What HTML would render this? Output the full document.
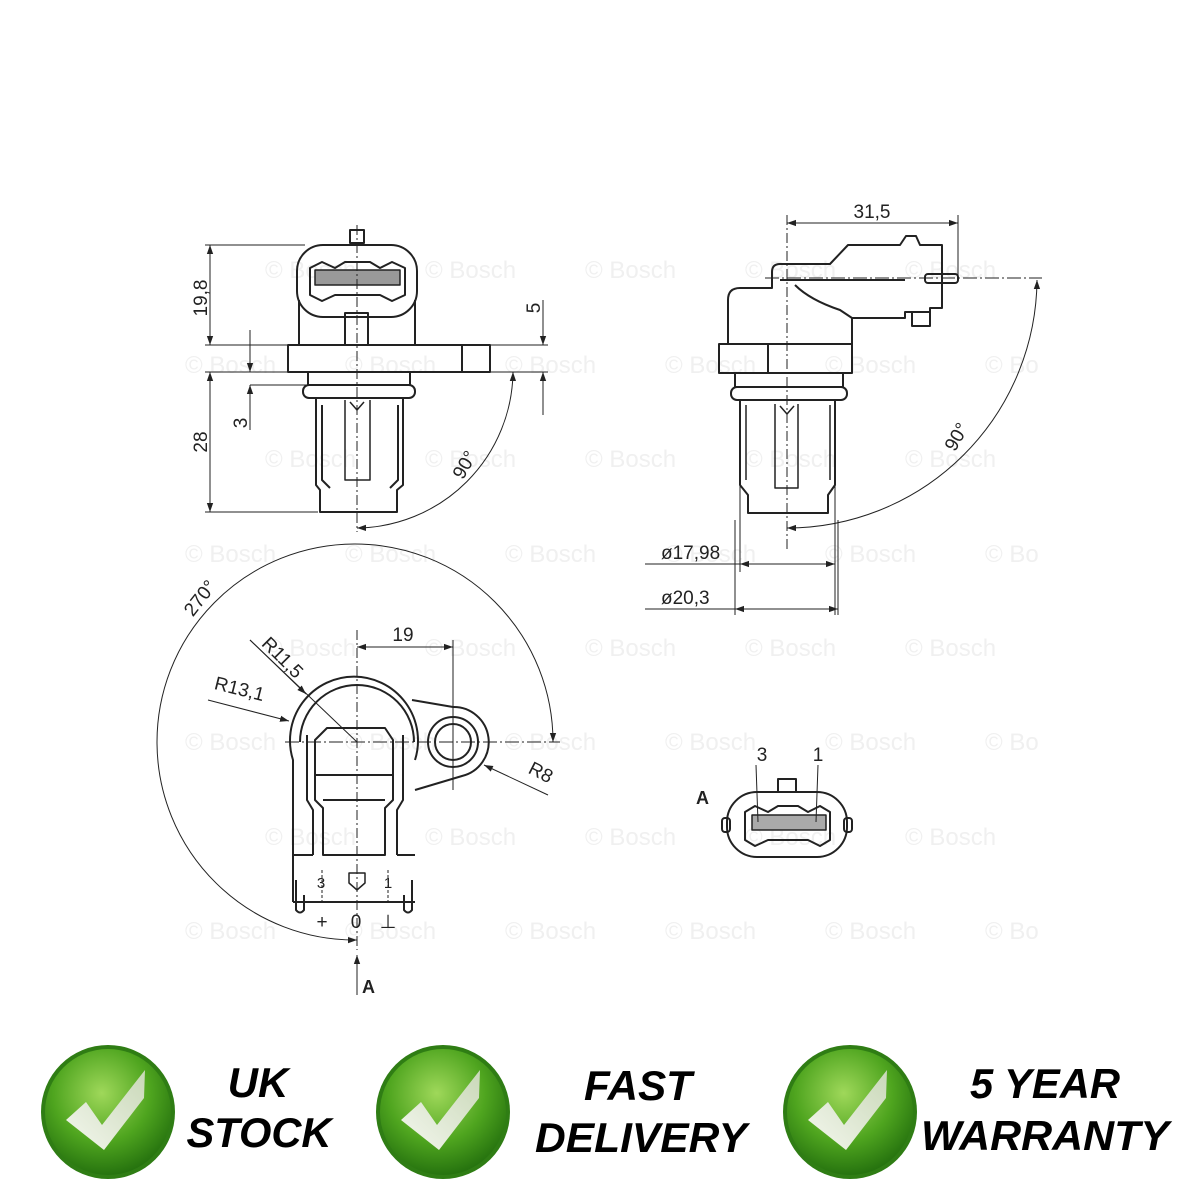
<!DOCTYPE html>
<html><head><meta charset="utf-8"><style>
html,body{margin:0;padding:0;background:#fff;}
svg{display:block;}
</style></head><body>
<svg width="1200" height="1200" viewBox="0 0 1200 1200" xmlns="http://www.w3.org/2000/svg">
<defs>
<marker id="ar" viewBox="0 0 10 10" refX="10" refY="5" markerWidth="9" markerHeight="9" orient="auto-start-reverse" markerUnits="userSpaceOnUse"><path d="M0,1.5 L10,5 L0,8.5 Z" fill="#222"/></marker>
<radialGradient id="gg" cx="45%" cy="35%" r="70%">
<stop offset="0" stop-color="#9fd85a"/><stop offset="0.55" stop-color="#4fa51f"/><stop offset="1" stop-color="#1f6a0c"/></radialGradient>
<linearGradient id="ck" x1="0" y1="1" x2="1" y2="0"><stop offset="0" stop-color="#f4f7ee"/><stop offset="1" stop-color="#c9d8b8"/></linearGradient>
</defs>

<g font-family="Liberation Sans, sans-serif" font-size="24" fill="#f0f0f0">
<text x="265" y="278">© Bosch</text><text x="425" y="278">© Bosch</text><text x="585" y="278">© Bosch</text><text x="745" y="278">© Bosch</text><text x="905" y="278">© Bosch</text>
<text x="185" y="373">© Bosch</text><text x="345" y="373">© Bosch</text><text x="505" y="373">© Bosch</text><text x="665" y="373">© Bosch</text><text x="825" y="373">© Bosch</text><text x="985" y="373">© Bo</text>
<text x="265" y="467">© Bosch</text><text x="425" y="467">© Bosch</text><text x="585" y="467">© Bosch</text><text x="745" y="467">© Bosch</text><text x="905" y="467">© Bosch</text>
<text x="185" y="562">© Bosch</text><text x="345" y="562">© Bosch</text><text x="505" y="562">© Bosch</text><text x="665" y="562">© Bosch</text><text x="825" y="562">© Bosch</text><text x="985" y="562">© Bo</text>
<text x="265" y="656">© Bosch</text><text x="425" y="656">© Bosch</text><text x="585" y="656">© Bosch</text><text x="745" y="656">© Bosch</text><text x="905" y="656">© Bosch</text>
<text x="185" y="750">© Bosch</text><text x="345" y="750">© Bosch</text><text x="505" y="750">© Bosch</text><text x="665" y="750">© Bosch</text><text x="825" y="750">© Bosch</text><text x="985" y="750">© Bo</text>
<text x="265" y="845">© Bosch</text><text x="425" y="845">© Bosch</text><text x="585" y="845">© Bosch</text><text x="745" y="845">© Bosch</text><text x="905" y="845">© Bosch</text>
<text x="185" y="939">© Bosch</text><text x="345" y="939">© Bosch</text><text x="505" y="939">© Bosch</text><text x="665" y="939">© Bosch</text><text x="825" y="939">© Bosch</text><text x="985" y="939">© Bo</text>
</g>

<g fill="none" stroke="#222" stroke-width="2" stroke-linejoin="round">
<rect x="350" y="230" width="14" height="13"/>
<rect x="297" y="245" width="120" height="72" rx="26"/>
<path d="M310,268 L322,262 L335,268 L345,262 L370,262 L380,268 L392,262 L405,268 L405,295 L392,301 L380,295 L335,295 L322,301 L310,295 Z"/>
<rect x="315" y="270" width="85" height="15" fill="#999" stroke-width="1.5"/>
<path d="M299,300 L299,345 M415,300 L415,345"/>
<rect x="345" y="313" width="23" height="32"/>
<rect x="288" y="345" width="202" height="27"/>
<line x1="462" y1="345" x2="462" y2="372"/>
<rect x="308" y="372" width="102" height="13"/>
<rect x="303" y="385" width="112" height="13" rx="6"/>
<path d="M316,398 L316,485 L320,490 L320,512 L397,512 L397,490 L403,485 L403,398"/>
<path d="M322,405 L322,480 L330,488 M398,405 L398,480 L390,488"/>
<path d="M345,400 L345,480 L370,480 L370,400 M350,402 L357,410 L364,402" stroke-width="1.5"/>
<g stroke-width="1">
<line x1="205" y1="245" x2="305" y2="245"/>
<line x1="205" y1="345" x2="288" y2="345"/>
<line x1="205" y1="372" x2="308" y2="372"/>
<line x1="205" y1="512" x2="318" y2="512"/>
<line x1="250" y1="385" x2="308" y2="385"/>
<line x1="210" y1="245" x2="210" y2="345" marker-start="url(#ar)" marker-end="url(#ar)"/>
<line x1="210" y1="372" x2="210" y2="512" marker-start="url(#ar)" marker-end="url(#ar)"/>
<line x1="250" y1="330" x2="250" y2="372" marker-end="url(#ar)"/>
<line x1="250" y1="430" x2="250" y2="385" marker-end="url(#ar)"/>
<line x1="490" y1="345" x2="548" y2="345"/>
<line x1="490" y1="372" x2="548" y2="372"/>
<line x1="543" y1="300" x2="543" y2="345" marker-end="url(#ar)"/>
<line x1="543" y1="415" x2="543" y2="372" marker-end="url(#ar)"/>
<line x1="357" y1="225" x2="357" y2="532" stroke-dasharray="10,3,2,3"/>
<path d="M513,372 A158,158 0 0 1 357,528" marker-start="url(#ar)" marker-end="url(#ar)"/>
</g>

<path d="M728,345 L728,300 Q728,288 740,288 L772,288 L772,272 Q772,264 780,264 L830,264 L848,245 L900,245 L906,236 L916,236 L920,245 L942,245 L942,308 L930,308 L930,312 L905,312 L905,318 L852,318 L852,345"/>
<path d="M780,280 L905,280 M795,285 Q810,300 840,310 L852,318"/>
<rect x="925" y="274" width="33" height="9" rx="3"/>
<rect x="912" y="312" width="18" height="14"/>
<rect x="719" y="344" width="133" height="29"/>
<line x1="768" y1="344" x2="768" y2="373"/>
<rect x="735" y="373" width="108" height="14"/>
<rect x="731" y="387" width="116" height="13" rx="6"/>
<path d="M740,400 L740,485 L748,495 L748,513 L828,513 L828,495 L835,485 L835,400"/>
<path d="M746,405 L746,480 M830,405 L830,480 M775,404 L775,488 L798,488 L798,404 M780,406 L787,414 L794,406" stroke-width="1.5"/>
<g stroke-width="1">
<line x1="787" y1="215" x2="787" y2="552" stroke-dasharray="10,3,2,3"/>
<line x1="958" y1="215" x2="958" y2="280"/>
<line x1="787" y1="223" x2="958" y2="223" marker-start="url(#ar)" marker-end="url(#ar)"/>
<line x1="765" y1="278" x2="1042" y2="278" stroke-dasharray="14,3,2,3"/>
<path d="M1037,280 A250,250 0 0 1 787,528" marker-start="url(#ar)" marker-end="url(#ar)"/>
<line x1="740" y1="400" x2="740" y2="572"/>
<line x1="835" y1="400" x2="835" y2="615"/>
<line x1="735" y1="520" x2="735" y2="615"/>
<line x1="838" y1="520" x2="838" y2="615"/>
<line x1="645" y1="564" x2="740" y2="564"/>
<line x1="740" y1="564" x2="835" y2="564" marker-start="url(#ar)" marker-end="url(#ar)"/>
<line x1="645" y1="609" x2="735" y2="609"/>
<line x1="735" y1="609" x2="838" y2="609" marker-start="url(#ar)" marker-end="url(#ar)"/>
</g>

<path d="M293,902 L293,760 A64,64 0 1 1 415,760"/>
<path d="M300,742 A57,57 0 1 1 414,742"/>
<path d="M412,700 L453,707 A35,35 0 0 1 462,776 L415,790"/>
<circle cx="453" cy="742" r="25"/>
<circle cx="453" cy="742" r="18"/>
<path d="M315,740 L315,800 L323,808 L323,855 L385,855 L385,808 L393,800 L393,740 L385,728 L327,728 Z"/>
<path d="M307,735 L307,800 L313,810 L313,855 M403,735 L403,800 L397,810 L397,855"/>
<line x1="315" y1="775" x2="393" y2="775"/>
<line x1="323" y1="800" x2="385" y2="800"/>
<path d="M293,855 L313,855 M397,855 L415,855"/>
<path d="M293,902 L415,902"/>
<path d="M296,880 L296,910 Q300,915 304,910 L304,895 M412,880 L412,910 Q408,915 404,910 L404,895"/>
<path d="M349,873 L349,883 L357,890 L365,883 L365,873 Z" stroke-width="1.5"/>
<g stroke-width="1">
<line x1="357" y1="630" x2="357" y2="950" stroke-dasharray="10,3,2,3"/>
<line x1="285" y1="742" x2="560" y2="742" stroke-dasharray="14,3,2,3"/>
<line x1="453" y1="640" x2="453" y2="790"/>
<line x1="357" y1="647" x2="453" y2="647" marker-start="url(#ar)" marker-end="url(#ar)"/>
<path d="M553,742 A198,198 0 1 0 357,940" marker-start="url(#ar)" marker-end="url(#ar)"/>
<line x1="250" y1="640" x2="357" y2="742"/>
<line x1="250" y1="640" x2="306" y2="694" marker-end="url(#ar)"/>
<line x1="208" y1="700" x2="289" y2="721" marker-end="url(#ar)"/>
<line x1="548" y1="795" x2="484" y2="765" marker-end="url(#ar)"/>
<line x1="357" y1="995" x2="357" y2="955" marker-end="url(#ar)"/>
<line x1="322" y1="870" x2="322" y2="902" stroke-dasharray="3,2"/>
<line x1="388" y1="870" x2="388" y2="902" stroke-dasharray="3,2"/>
</g>

<rect x="778" y="779" width="18" height="13"/>
<rect x="727" y="792" width="120" height="65" rx="30"/>
<rect x="722" y="818" width="8" height="14" rx="3"/>
<rect x="844" y="818" width="8" height="14" rx="3"/>
<path d="M745,812 L755,806 L768,812 L778,806 L798,806 L808,812 L820,806 L830,812 L830,840 L820,846 L808,840 L768,840 L755,846 L745,840 Z"/>
<rect x="752" y="815" width="74" height="15" fill="#aaa" stroke-width="1.5"/>
<line x1="756" y1="765" x2="758" y2="822" stroke-width="1"/>
<line x1="818" y1="765" x2="816" y2="822" stroke-width="1"/>
</g>

<g font-family="Liberation Sans, sans-serif" font-size="19" fill="#222">
<text transform="translate(207,298) rotate(-90)" text-anchor="middle">19,8</text>
<text transform="translate(207,442) rotate(-90)" text-anchor="middle">28</text>
<text transform="translate(247,423) rotate(-90)" text-anchor="middle">3</text>
<text transform="translate(540,308) rotate(-90)" text-anchor="middle">5</text>
<text transform="translate(470,468) rotate(-60)" text-anchor="middle">90°</text>
<text x="872" y="218" text-anchor="middle">31,5</text>
<text transform="translate(962,440) rotate(-60)" text-anchor="middle">90°</text>
<text x="661" y="559">ø17,98</text>
<text x="661" y="604">ø20,3</text>
<text transform="translate(205,602) rotate(-52)" text-anchor="middle">270°</text>
<text x="403" y="641" text-anchor="middle">19</text>
<text transform="translate(278,662) rotate(45)" text-anchor="middle">R11,5</text>
<text transform="translate(238,695) rotate(14)" text-anchor="middle">R13,1</text>
<text transform="translate(538,778) rotate(27)" text-anchor="middle">R8</text>
<text x="321" y="888" font-size="15" text-anchor="middle">3</text>
<text x="388" y="888" font-size="15" text-anchor="middle">1</text>
<text x="322" y="928" text-anchor="middle">+</text>
<text x="356" y="928" text-anchor="middle">0</text>
<text x="388" y="928" text-anchor="middle">⊥</text>
<text x="762" y="761" text-anchor="middle">3</text>
<text x="818" y="761" text-anchor="middle">1</text>
</g>
<g font-family="Liberation Sans, sans-serif" font-weight="bold" font-size="18" fill="#222">
<text x="362" y="993">A</text>
<text x="696" y="804">A</text>
</g>

<g>
<circle cx="108" cy="1112" r="67" fill="#2f7d14"/>
<circle cx="108" cy="1112" r="63" fill="url(#gg)"/>
<path d="M66,1120 L86,1102 L102,1125 L145,1070 L144,1098 L104,1150 Z" fill="url(#ck)"/>
<circle cx="443" cy="1112" r="67" fill="#2f7d14"/>
<circle cx="443" cy="1112" r="63" fill="url(#gg)"/>
<path d="M401,1120 L421,1102 L437,1125 L480,1070 L479,1098 L439,1150 Z" fill="url(#ck)"/>
<circle cx="850" cy="1112" r="67" fill="#2f7d14"/>
<circle cx="850" cy="1112" r="63" fill="url(#gg)"/>
<path d="M808,1120 L828,1102 L844,1125 L887,1070 L886,1098 L846,1150 Z" fill="url(#ck)"/>
</g>
<g font-family="Liberation Sans, sans-serif" font-weight="bold" font-style="italic" font-size="42" fill="#000">
<text x="258" y="1097" text-anchor="middle">UK</text>
<text x="259" y="1147" textLength="145" lengthAdjust="spacingAndGlyphs" text-anchor="middle">STOCK</text>
<text x="638" y="1100" textLength="108" lengthAdjust="spacingAndGlyphs" text-anchor="middle">FAST</text>
<text x="641" y="1152" textLength="212" lengthAdjust="spacingAndGlyphs" text-anchor="middle">DELIVERY</text>
<text x="1045" y="1098" textLength="150" lengthAdjust="spacingAndGlyphs" text-anchor="middle">5 YEAR</text>
<text x="1045" y="1150" textLength="248" lengthAdjust="spacingAndGlyphs" text-anchor="middle">WARRANTY</text>
</g>
</svg>
</body></html>
